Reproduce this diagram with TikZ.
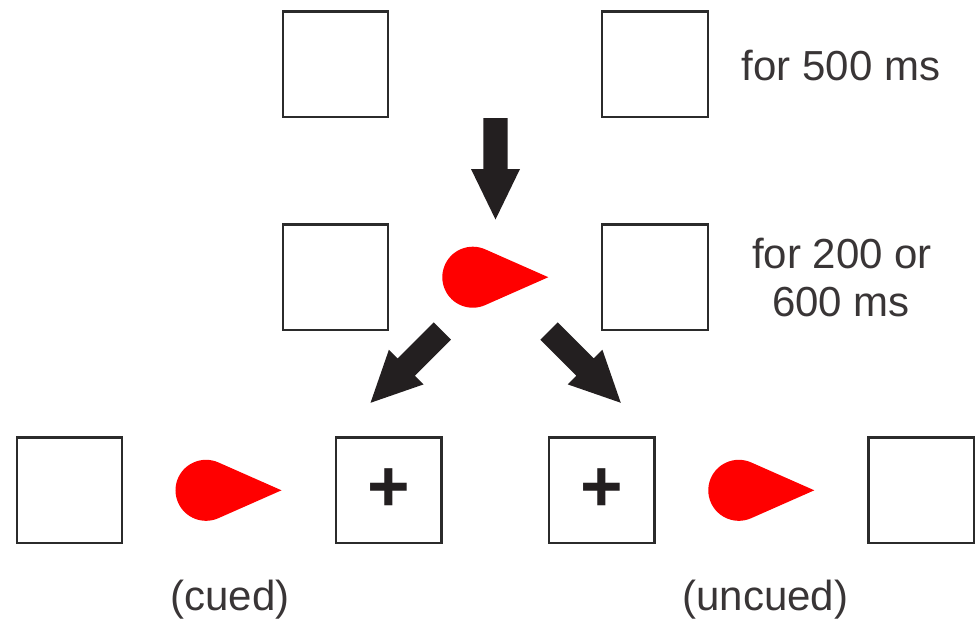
\documentclass[tikz,border=0pt]{standalone}
\usepackage{fontspec}
\setmainfont{Liberation Sans}
\definecolor{ink}{HTML}{231F20}
\definecolor{frame}{HTML}{2B2B2B}
\tikzset{
  box/.style={draw=frame, line width=2.3pt, minimum size=105.4pt, inner sep=0pt, fill=white},
  lbl/.style={font=\fontsize{42}{48}\selectfont, text=ink!90, inner sep=0pt, anchor=base},
  plusfont/.style={font=\fontsize{73}{80}\selectfont\bfseries, text=ink},
  drop/.pic={\fill[red] (75.5,0) -- (66.2:30.5) arc[start angle=66.2,end angle=293.8,radius=30.5] -- cycle;},
  fatarrow/.pic={\fill[ink] (0,-12.2) -- (51,-12.2) -- (51,-24.5) -- (101.5,0) -- (51,24.5) -- (51,12.2) -- (0,12.2) -- cycle;}
}
\begin{document}
\begin{tikzpicture}[x=1pt,y=-1pt]
\useasboundingbox (0,0) rectangle (977,619);
% top row
\node[box] (tl) at (335.5,64.3) {};
\node[box] (tr) at (655,64.3) {};
\node[lbl] (t1) at (841,80) {for 500 ms};
% middle row
\node[box] (ml) at (335.5,277.3) {};
\node[box] (mr) at (655,277.3) {};
\pic at (472.8,277.2) {drop};
\node[lbl] (t2) at (842,268.3) {for 200 or};
\node[lbl] (t3) at (841,316) {600 ms};
% arrows
\coordinate (a0) at (495.5,118);
\coordinate (a1) at (442.3,331);
\coordinate (a2) at (549,331);
\pic[rotate=-90] at (a0) {fatarrow};
\pic[rotate=-135] at (a1) {fatarrow};
\pic[rotate=-45] at (a2) {fatarrow};
% bottom row
\node[box] (b1) at (69.5,490.3) {};
\pic at (206,490.3) {drop};
\node[box, plusfont] (b2) at (388.8,490.3) {+};
\node[box, plusfont] (b3) at (601.8,490.3) {+};
\pic at (738.8,490.3) {drop};
\node[box] (b4) at (921.2,490.3) {};
\node[lbl] (c1) at (230,610) {(cued)};
\node[lbl] (c2) at (765.3,610) {(uncued)};
\end{tikzpicture}
\end{document}
